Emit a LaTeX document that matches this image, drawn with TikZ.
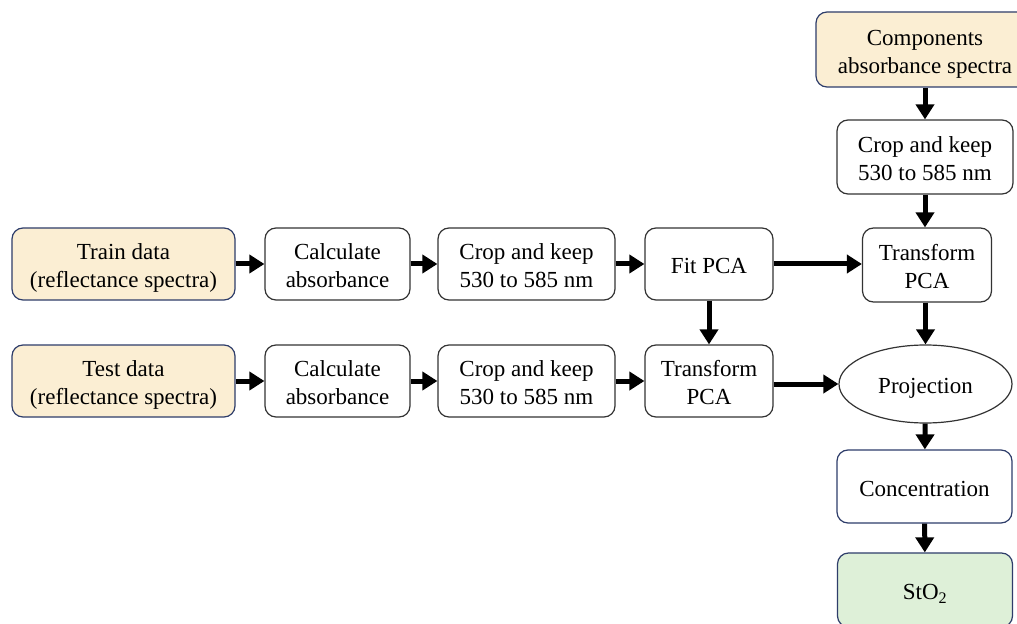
\documentclass[tikz,border=0pt]{standalone}
\usepackage{fontspec}
\setmainfont{Liberation Serif}
\usetikzlibrary{arrows.meta,shapes.geometric}
\definecolor{beige}{HTML}{FBEED3}
\definecolor{lgreen}{HTML}{DEF0D8}
\definecolor{navy}{HTML}{2E3D6A}
\definecolor{dgray}{HTML}{333333}
\newcommand\lowtxt[1]{\raisebox{-4bp}[\height][\depth]{\begin{tabular}{@{}c@{}}#1\end{tabular}}}
\tikzset{
  box/.style={draw=dgray, line width=1.2bp, rounded corners=11bp, fill=white,
    font=\fontsize{23bp}{28bp}\selectfont, inner sep=0pt},
  inbox/.style={box, draw=navy, fill=beige},
  outbox/.style={box, draw=navy, fill=lgreen},
  flow/.style={line width=5bp, -{Triangle[length=15bp,width=18bp]}},
}
\begin{document}
\begin{tikzpicture}[x=1bp,y=-1bp]
\clip (0,0) rectangle (1017,624);
\fill[white] (0,0) rectangle (1017,624);
\node[inbox, minimum width=218bp, minimum height=75bp] (comp) at (925,49.5) {\lowtxt{Components\\absorbance spectra}};
\node[box, minimum width=176bp, minimum height=74bp] (crop0) at (925,157) {\lowtxt{Crop and keep\\530 to 585 nm}};
\node[inbox, minimum width=223bp, minimum height=72bp] (train) at (123.5,264) {\lowtxt{Train data\\(reflectance spectra)}};
\node[box, minimum width=145bp, minimum height=72bp] (calc1) at (337.5,264) {\lowtxt{Calculate\\absorbance}};
\node[box, minimum width=177bp, minimum height=72bp] (crop1) at (526.5,264) {\lowtxt{Crop and keep\\530 to 585 nm}};
\node[box, minimum width=128bp, minimum height=72bp] (fit) at (709,264) {\lowtxt{Fit PCA}};
\node[box, minimum width=129bp, minimum height=74bp] (tr0) at (927,265) {\lowtxt{Transform\\PCA}};
\node[inbox, minimum width=223bp, minimum height=72bp] (test) at (123.5,381) {\lowtxt{Test data\\(reflectance spectra)}};
\node[box, minimum width=145bp, minimum height=72bp] (calc2) at (337.5,381) {\lowtxt{Calculate\\absorbance}};
\node[box, minimum width=177bp, minimum height=72bp] (crop2) at (526.5,381) {\lowtxt{Crop and keep\\530 to 585 nm}};
\node[box, minimum width=128bp, minimum height=72bp] (tr2) at (709,381) {\lowtxt{Transform\\PCA}};
\node[box, ellipse, rounded corners=0pt, minimum width=173bp, minimum height=78bp] (proj) at (925.5,384) {\lowtxt{Projection}};
\node[box, draw=navy, minimum width=175bp, minimum height=73bp] (conc) at (924.5,486.5) {\lowtxt{Concentration}};
\node[outbox, minimum width=175bp, minimum height=74bp] (sto) at (925,590) {\lowtxt{StO\textsubscript{2}}};
\draw[flow] (comp) -- (crop0);
\draw[flow] (crop0) -- (crop0 |- tr0.north);
\draw[flow] (train) -- (calc1);
\draw[flow] (calc1) -- (crop1);
\draw[flow] (crop1) -- (fit);
\draw[flow] (fit) -- (tr0.west |- fit);
\draw[flow] (test) -- (calc2);
\draw[flow] (calc2) -- (crop2);
\draw[flow] (crop2) -- (tr2);
\draw[flow] (fit) -- (tr2);
\draw[flow] (tr2.east |- proj) -- (proj);
\draw[flow] (proj.north |- tr0.south) -- (proj.north);
\draw[flow] (proj) -- (conc);
\draw[flow] (conc) -- (sto);
\end{tikzpicture}
\end{document}
